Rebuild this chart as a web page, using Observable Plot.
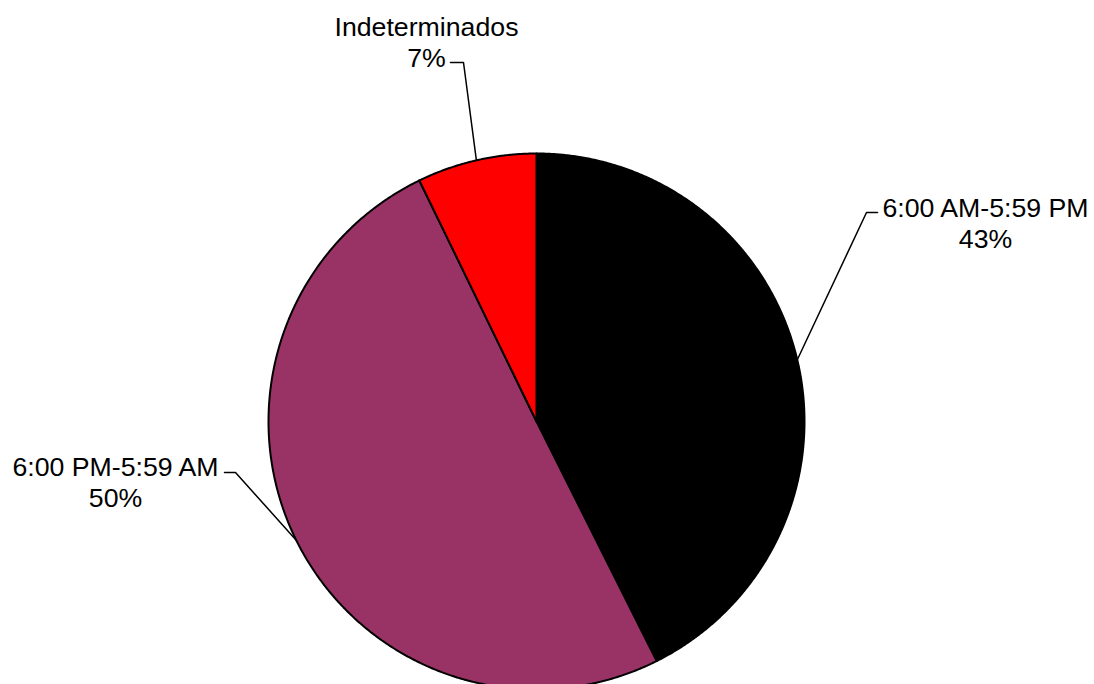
<!DOCTYPE html>
<html><head><meta charset="utf-8">
<script src="https://cdn.jsdelivr.net/npm/d3@7"></script>
<script src="https://cdn.jsdelivr.net/npm/@observablehq/plot@0.6"></script>
<style>html,body{margin:0;padding:0;background:#fff} svg{display:block}</style>
</head><body><div id="chart"></div>
<script>
// ---- data ----
const categories = ["6:00 AM-5:59 PM", "6:00 PM-5:59 AM", "Indeterminados"];
const values = [42.6, 50.2, 7.2];          // shares
const percentLabels = ["43%", "50%", "7%"]; // as printed on the chart
const colors = ["#000000", "#993366", "#FF0000"];

// ---- layout ----
const W = 1094, H = 684, cx = 536, cy = 421, R = 268;
const FS = 26.7;
const labelLayout = {
  "6:00 AM-5:59 PM": {elbow: [866, 212], end: [877, 212], tx: 985, baseline: 213},
  "6:00 PM-5:59 AM": {elbow: [235, 472], end: [224, 472], tx: 115, baseline: 472},
  "Indeterminados":  {elbow: [463, 62],  end: [450, 62],  tx: 426, baseline: 32}
};

const table = categories.map((c, i) => ({category: c, value: values[i], pct: percentLabels[i]}));
const arcs = d3.pie().sort(null).value(d => d.value).startAngle(0).endAngle(2 * Math.PI)(table);
const pt = a => [cx + R * Math.sin(a), cy - R * Math.cos(a)];

const slicePts = [];
for (const a of arcs) {
  const c = a.data.category;
  slicePts.push({category: c, x: cx, y: cy});
  const n = Math.max(8, Math.ceil((a.endAngle - a.startAngle) * 180));
  for (let k = 0; k <= n; k++) {
    const t = a.startAngle + (a.endAngle - a.startAngle) * k / n;
    const [x, y] = pt(t);
    slicePts.push({category: c, x, y});
  }
}

const leaderPts = [];
const labels = [];
for (const a of arcs) {
  const c = a.data.category;
  const L = labelLayout[c];
  const [ax, ay] = pt((a.startAngle + a.endAngle) / 2);
  leaderPts.push({category: c, x: ax, y: ay});
  leaderPts.push({category: c, x: L.elbow[0], y: L.elbow[1]});
  leaderPts.push({category: c, x: L.end[0], y: L.end[1]});
  labels.push({category: c, x: L.tx, y: L.baseline - 0.71 * FS, text: c + "\n" + a.data.pct});
}

const chart = Plot.plot({
  width: W, height: H,
  margin: 0,
  x: {domain: [0, W], range: [0, W], axis: null},
  y: {domain: [0, H], range: [0, H], axis: null},
  color: {domain: categories, range: colors},
  style: {background: "#fff"},
  marks: [
    Plot.line(slicePts, {x: "x", y: "y", z: "category", fill: "category", stroke: "#000", strokeWidth: 2, curve: "linear-closed", strokeLinejoin: "round"}),
    Plot.line(leaderPts, {x: "x", y: "y", z: "category", stroke: "#000", strokeWidth: 1.5}),
    Plot.text(labels, {x: "x", y: "y", text: "text", textAnchor: "middle", lineAnchor: "top", lineHeight: 31 / FS,
      fontSize: FS, fontFamily: "Liberation Sans, Arial, sans-serif", fill: "#000"})
  ]
});
document.getElementById("chart").appendChild(chart);
</script>
</body></html>
